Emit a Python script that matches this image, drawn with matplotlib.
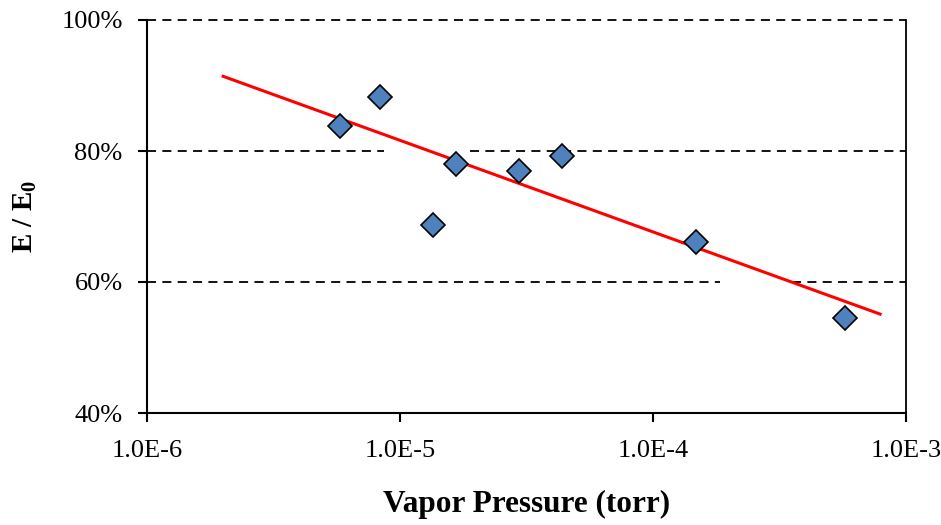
import matplotlib
matplotlib.use("Agg")
import matplotlib.pyplot as plt
import matplotlib.ticker as ticker

# measured points
vapor_pressure = [5.8e-6, 8.3e-6, 1.35e-5, 1.66e-5, 2.95e-5, 4.37e-5, 1.48e-4, 5.74e-4]
e_ratio = [83.8, 88.2, 68.7, 78.0, 76.9, 79.2, 66.1, 54.5]

# log trend line end points
trend_x = [2.0e-6, 7.9e-4]
trend_y = [91.4, 55.1]

x_ticks = [1e-6, 1e-5, 1e-4, 1e-3]
x_tick_labels = ["1.0E-6", "1.0E-5", "1.0E-4", "1.0E-3"]
y_ticks = [40, 60, 80, 100]

plt.rcParams["font.family"] = ["Liberation Serif", "DejaVu Serif"]
plt.rcParams["mathtext.fontset"] = "custom"
plt.rcParams["mathtext.bf"] = "Liberation Serif:bold"
plt.rcParams["mathtext.rm"] = "Liberation Serif"

fig = plt.figure(figsize=(9.41, 5.25), dpi=100)
ax = fig.add_axes([147 / 941, 1 - 413 / 525, 759 / 941, 393 / 525])

ax.set_xscale("log")
ax.set_xlim(1e-6, 1e-3)
ax.set_ylim(40, 100)

# dashed gridlines (with the gaps seen in the original)
dash = dict(color="black", lw=1.3, ls=(0, (5, 3.5)), zorder=1)
ax.axhline(100, clip_on=False, **dash)
ax.axhline(80, xmin=0, xmax=0.312, **dash)
ax.axhline(80, xmin=0.425, xmax=1, **dash)
ax.axhline(60, xmin=0, xmax=0.755, **dash)
ax.axhline(60, xmin=0.85, xmax=1, **dash)

ax.plot(trend_x, trend_y, color="#ff0000", lw=2.2, zorder=2)
ax.plot(vapor_pressure, e_ratio, ls="none", marker="D", markersize=12,
        markerfacecolor="#4f81bd", markeredgecolor="black", markeredgewidth=1.2, zorder=3)

ax.set_xticks(x_ticks)
ax.set_xticklabels(x_tick_labels)
ax.xaxis.set_minor_locator(ticker.NullLocator())
ax.set_yticks(y_ticks)
ax.yaxis.set_major_formatter(ticker.FuncFormatter(lambda v, p: "%d%%" % v))

ax.tick_params(direction="out", length=6.5, width=1.5, labelsize=19, color="black")
ax.tick_params(axis="x", pad=13)
ax.tick_params(axis="y", pad=11)

ax.spines["top"].set_visible(False)
ax.spines["left"].set_linewidth(1.5)
ax.spines["bottom"].set_linewidth(1.5)
ax.spines["right"].set_linewidth(1.3)

ax.set_xlabel("Vapor Pressure (torr)", fontsize=22.5, fontweight="bold", labelpad=20)
ax.set_ylabel(r"E / E$_\mathbf{0}$", fontsize=21, fontweight="bold", labelpad=16)

fig.savefig("out.png", dpi=100)
